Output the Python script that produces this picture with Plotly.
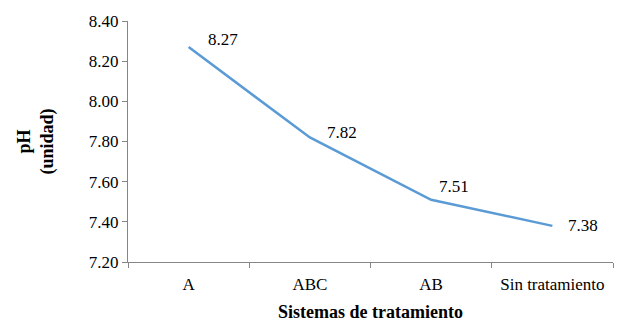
import plotly.graph_objects as go

categories = ["A", "ABC", "AB", "Sin tratamiento"]
ph_values = [8.27, 7.82, 7.51, 7.38]
y_ticks = [7.20, 7.40, 7.60, 7.80, 8.00, 8.20, 8.40]

label_xshift = [17, 15, 6, 14]
label_yshift = [8, 5, 13, 0]

FONT = "Liberation Serif, Times New Roman, serif"
AX = "#868686"

fig = go.Figure()
fig.add_trace(go.Scatter(
    x=categories, y=ph_values, mode="lines",
    line=dict(color="#5B9BD5", width=2.5),
    hoverinfo="x+y", showlegend=False,
))

for c, v, dx, dy in zip(categories, ph_values, label_xshift, label_yshift):
    fig.add_annotation(x=c, y=v, text=f"{v:.2f}", showarrow=False,
                       xanchor="left", yanchor="middle", xshift=dx, yshift=dy,
                       font=dict(family=FONT, size=17, color="#000000"))

fig.update_layout(
    width=632, height=331,
    margin=dict(l=128, r=19, t=16, b=69),
    paper_bgcolor="white", plot_bgcolor="white",
    font=dict(family=FONT, size=17, color="#000000"),
    xaxis=dict(
        type="category", range=[-0.5, 3.5],
        showline=True, linecolor=AX, linewidth=1,
        ticks="outside", ticklen=5, tickcolor=AX, tickson="boundaries",
        showgrid=False, zeroline=False, ticklabelstandoff=7,
        tickfont=dict(family=FONT, size=17),
        title=dict(text="<b>Sistemas de tratamiento</b>", font=dict(family=FONT, size=18), standoff=11),
    ),
    yaxis=dict(
        range=[7.2, 8.4], tickvals=y_ticks, ticktext=[f"{t:.2f}" for t in y_ticks],
        showline=True, linecolor=AX, linewidth=1,
        ticks="outside", ticklen=5, tickcolor=AX,
        showgrid=False, zeroline=False,
        tickfont=dict(family=FONT, size=17),
        title=dict(text="<b>pH<br>(unidad)</b>", font=dict(family=FONT, size=18), standoff=30),
    ),
)

fig.write_html("out.html", config={"displayModeBar": False})

with open("out.html", "r", encoding="utf-8") as f:
    html = f.read()
html = html.replace("<body>", '<body style="margin:0;padding:0;overflow:hidden">', 1)
with open("out.html", "w", encoding="utf-8") as f:
    f.write(html)
